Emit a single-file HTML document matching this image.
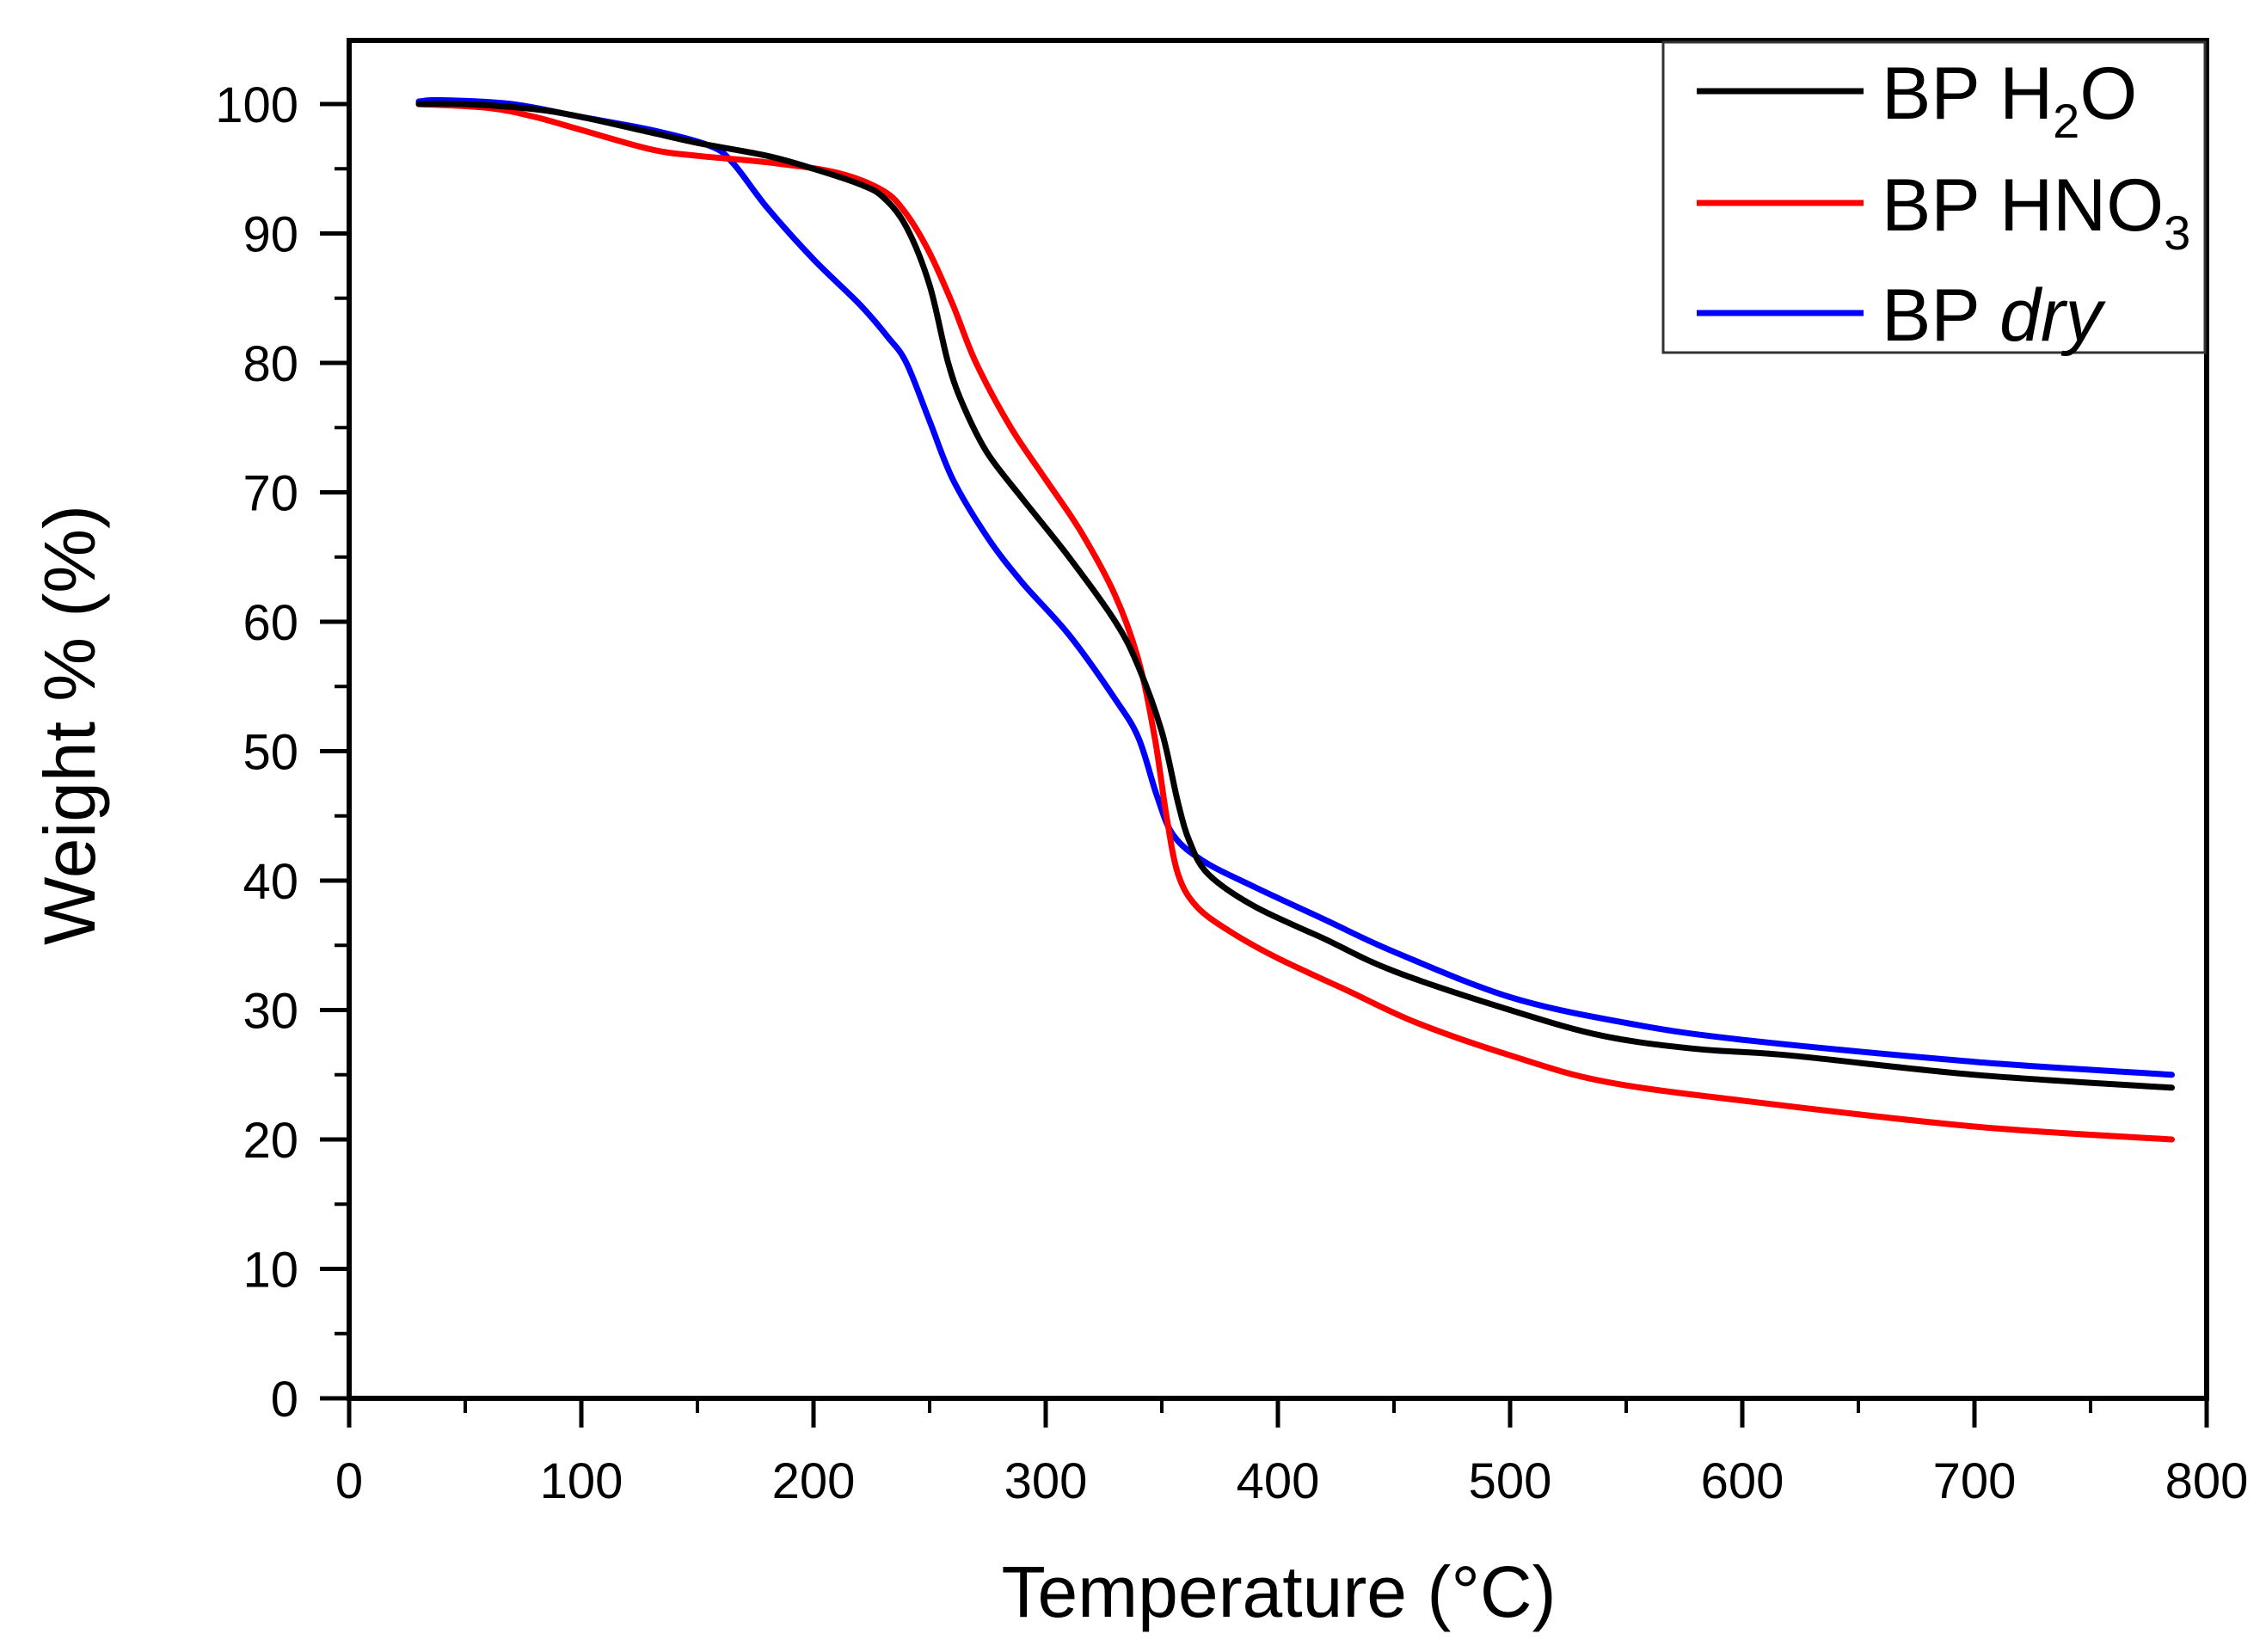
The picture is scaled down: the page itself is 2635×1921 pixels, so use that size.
<!DOCTYPE html>
<html><head><meta charset="utf-8"><style>
html,body{margin:0;padding:0;background:#fff;}
svg{display:block;font-family:"Liberation Sans",Arial,sans-serif;}
</style></head><body>
<svg id="chart" width="2635" height="1921" viewBox="0 0 2635 1921" xmlns="http://www.w3.org/2000/svg">
<g id="grid-layer"></g>
<g id="series-layer"></g>
<rect x="406" y="47" width="2160" height="1579" fill="none" stroke="#000" stroke-width="6"/>
<g>
<rect x="1934" y="49" width="630" height="361" fill="#fff" stroke="#333" stroke-width="3"/>
<line x1="1973" y1="106" x2="2167" y2="106" stroke="#000" stroke-width="7"/>
<text x="2188" y="138" font-size="86">BP H<tspan font-size="56" dy="22">2</tspan><tspan dy="-22">O</tspan></text>
<line x1="1973" y1="236" x2="2167" y2="236" stroke="#ff0000" stroke-width="7"/>
<text x="2188" y="268" font-size="86">BP HNO<tspan font-size="56" dy="22">3</tspan></text>
<line x1="1973" y1="364" x2="2167" y2="364" stroke="#0000ff" stroke-width="7"/>
<text x="2188" y="396" font-size="86">BP <tspan font-style="italic">dry</tspan></text>
</g>
<text x="1487" y="1880" font-size="84" text-anchor="middle">Temperature (°C)</text>
<text x="0" y="0" font-size="84" text-anchor="middle" transform="translate(110,843) rotate(-90)">Weight % (%)</text>
</svg>
<script>
const xTicks = [0,100,200,300,400,500,600,700,800];
const yTicks = [0,10,20,30,40,50,60,70,80,90,100];
const h2oT = [30,50,80,100,130,150,180,200,220,230,240,250,258,265,275,290,310,330,340,350,357,362,370,390,420,450,500,540,580,620,700,785];
const h2oW = [100,100,99.6,99,97.8,97,96,95,93.8,92.8,90.5,86,80,76.5,73,69.5,65,60,56.5,51.5,46,43,40.5,38,35.5,33,30,28,27,26.5,25,24];
const hno3T = [30,60,80,100,130,150,180,210,230,240,250,260,270,285,300,315,330,340,347,352,357,365,380,400,430,460,500,540,600,700,785];
const hno3W = [100,99.7,99,98,96.5,96,95.5,94.7,93.3,91.5,88.5,84.5,80,75,71,67,62,57,51,45,40.5,38,36,34,31.5,29,26.5,24.5,23,21,20];
const dryT = [30,40,70,100,130,155,165,180,200,220,232,240,250,260,275,290,310,330,340,348,355,368,390,420,450,500,550,600,700,785];
const dryW = [100.2,100.3,100,99,98,96.8,95.5,92,88,84.5,82,80,75.5,71,66.5,63,59,54,51,46.5,43.5,41.5,39.5,37,34.5,31,29,27.7,26,25];

const X0=406, X1=2566, Y0=1626, Y100=121;
function sx(t){return X0+(t-0)/800*(X1-X0);}
function sy(w){return Y0-(w/100)*(Y0-Y100);}
const NS="http://www.w3.org/2000/svg";
const axes=document.getElementById('grid-layer');
const series=document.getElementById('series-layer');
function mk(tag,attrs,parent){const e=document.createElementNS(NS,tag);for(const k in attrs)e.setAttribute(k,attrs[k]);parent.appendChild(e);return e;}

xTicks.forEach(t=>{
  const x=sx(t);
  const l=mk('line',{x1:x,y1:Y0,x2:x,y2:Y0+34,stroke:'#000','stroke-width':5},axes);
  
  
  const tx=mk('text',{x:x,y:1742,'font-size':58,'text-anchor':'middle'},axes);
  
  
  tx.textContent=t;
  if(t<800){
    const m=sx(t+50);
    const ml=mk('line',{x1:m,y1:Y0,x2:m,y2:Y0+17,stroke:'#000','stroke-width':4},axes);
    
    
  }
});
yTicks.forEach(w=>{
  const y=sy(w);
  const l=mk('line',{x1:X0-34,y1:y,x2:X0,y2:y,stroke:'#000','stroke-width':5},axes);
  
  
  const tx=mk('text',{x:347,y:y+21,'font-size':58,'text-anchor':'end'},axes);
  
  
  tx.textContent=w;
  if(w<100){
    const m=sy(w+5);
    const ml=mk('line',{x1:X0-17,y1:m,x2:X0,y2:m,stroke:'#000','stroke-width':4},axes);
    
    
  }
});
function draw(T,W,color,name){
  const P=T.map((t,i)=>[sx(t),sy(W[i])]);
  let d='M'+P[0][0].toFixed(1)+','+P[0][1].toFixed(1);
  for(let i=0;i<P.length-1;i++){
    const p0=P[Math.max(0,i-1)],p1=P[i],p2=P[i+1],p3=P[Math.min(P.length-1,i+2)];
    const c1=[p1[0]+(p2[0]-p0[0])/6,p1[1]+(p2[1]-p0[1])/6];
    const c2=[p2[0]-(p3[0]-p1[0])/6,p2[1]-(p3[1]-p1[1])/6];
    d+=' C'+c1[0].toFixed(1)+','+c1[1].toFixed(1)+' '+c2[0].toFixed(1)+','+c2[1].toFixed(1)+' '+p2[0].toFixed(1)+','+p2[1].toFixed(1);
  }
  const p=mk('path',{d:d,fill:'none',stroke:color,'stroke-width':7,'stroke-linejoin':'round','stroke-linecap':'round'},series);
  
  
}
draw(dryT,dryW,'#0000ff','series-bp-dry');
draw(hno3T,hno3W,'#ff0000','series-bp-hno3');
draw(h2oT,h2oW,'#000000','series-bp-h2o');
</script>
</body></html>
